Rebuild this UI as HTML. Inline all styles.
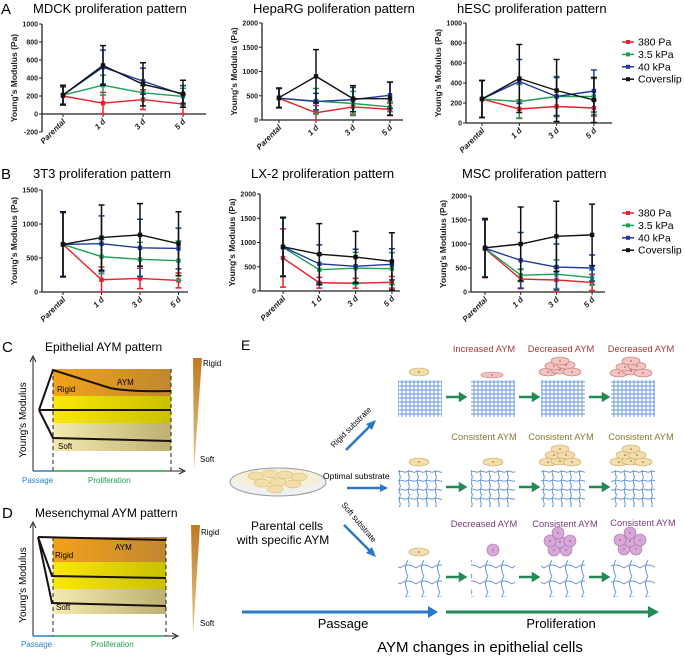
<!DOCTYPE html>
<html><head><meta charset="utf-8"><style>
html,body{margin:0;padding:0;background:#fff}
svg{display:block;font-family:"Liberation Sans",sans-serif}
</style></head><body>
<svg id="fig" width="685" height="656" viewBox="0 0 685 656" xmlns="http://www.w3.org/2000/svg">
<defs>
<linearGradient id="gOr" x1="0" x2="1"><stop offset="0" stop-color="#f3a21a"/><stop offset="1" stop-color="#c08830"/></linearGradient>
<linearGradient id="gYe" x1="0" x2="1"><stop offset="0" stop-color="#fbe70a"/><stop offset="1" stop-color="#c9c000"/></linearGradient>
<linearGradient id="gPa" x1="0" x2="1"><stop offset="0" stop-color="#f4eab0"/><stop offset="1" stop-color="#bdb070"/></linearGradient>
<linearGradient id="gTri" x1="0" x2="0" y1="0" y2="1"><stop offset="0" stop-color="#c07a20"/><stop offset="1" stop-color="#e8c890"/></linearGradient>
<pattern id="pFine" width="4" height="4" patternUnits="userSpaceOnUse"><path d="M0 2H4M2 0V4" stroke="#6a9ad8" stroke-width="1"/></pattern>
<pattern id="pMid" width="9" height="9" patternUnits="userSpaceOnUse"><path d="M0 4.5Q4.5 2 9 4.5M4.5 0Q2 4.5 4.5 9" stroke="#6a9ad8" stroke-width="1" fill="none"/></pattern>
<pattern id="pSoft" width="16" height="16" patternUnits="userSpaceOnUse"><path d="M0 8Q8 2 16 8M8 0Q3 8 8 16" stroke="#6a9ad8" stroke-width="1" fill="none"/></pattern>
</defs>
<g id="charts"></g>

<!-- Panel C -->
<g>
<text x="2" y="352" font-size="15">C</text>
<text x="45" y="351" font-size="12">Epithelial AYM pattern</text>
<rect x="53" y="369" width="118" height="27" fill="url(#gOr)"/>
<rect x="53" y="396" width="118" height="27" fill="url(#gYe)"/>
<rect x="53" y="423" width="118" height="28" fill="url(#gPa)"/>
<path d="M53 369V471M171 369V471" stroke="#222" stroke-dasharray="4 3"/>
<path d="M33 471V358M30 362L33 356L36 362" stroke="#222" fill="none"/>
<path d="M33 471H183M179 468L185 471L179 474" stroke="#222" fill="none"/>
<path d="M39 410L53 370Q85 380 110 388Q130 392 171 391M39 410H171M39 410L53 438L171 441" stroke="#1a1010" stroke-width="2" fill="none"/>
<text x="57" y="392" font-size="8">Rigid</text><text x="117" y="385" font-size="8">AYM</text><text x="58" y="449" font-size="8">Soft</text>
<path d="M33 471H52" stroke="#2a80d0" stroke-width="1.5"/><path d="M53 471H166" stroke="#20a050" stroke-width="1.5"/>
<text x="22" y="483" font-size="8" fill="#2a80d0">Passage</text><text x="88" y="483" font-size="8" fill="#20a050">Proliferation</text>
<text transform="translate(26,420) rotate(-90)" font-size="10" text-anchor="middle">Young's Modulus</text>
<path d="M193 358H202L194 470Z" fill="url(#gTri)"/>
<text x="203" y="366" font-size="8">Rigid</text><text x="200" y="462" font-size="8">Soft</text>
</g>

<!-- Panel D -->
<g>
<text x="2" y="518" font-size="15">D</text>
<text x="35" y="517" font-size="12">Mesenchymal AYM pattern</text>
<rect x="53" y="537" width="113" height="25" fill="url(#gOr)"/>
<rect x="53" y="562" width="113" height="27" fill="url(#gYe)"/>
<rect x="53" y="589" width="113" height="25" fill="url(#gPa)"/>
<path d="M53 537V636M166 537V636" stroke="#222" stroke-dasharray="4 3"/>
<path d="M33 636V524M30 528L33 522L36 528" stroke="#222" fill="none"/>
<path d="M33 636H176M172 633L178 636L172 639" stroke="#222" fill="none"/>
<path d="M38 537L166 540M38 537L52 576L166 578M38 537L52 603L166 606" stroke="#1a1010" stroke-width="2" fill="none"/>
<text x="55" y="558" font-size="8">Rigid</text><text x="115" y="550" font-size="8">AYM</text><text x="56" y="610" font-size="8">Soft</text>
<path d="M33 636H51" stroke="#2a80d0" stroke-width="1.5"/><path d="M53 636H163" stroke="#20a050" stroke-width="1.5"/>
<text x="21" y="647" font-size="8" fill="#2a80d0">Passage</text><text x="91" y="647" font-size="8" fill="#20a050">Proliferation</text>
<text transform="translate(26,585) rotate(-90)" font-size="10" text-anchor="middle">Young's Modulus</text>
<path d="M191 525H200L193 635Z" fill="url(#gTri)"/>
<text x="201" y="535" font-size="8">Rigid</text><text x="200" y="626" font-size="8">Soft</text>
</g>

<!-- Panel E -->
<g id="panelE">
<text x="241" y="350" font-size="14">E</text>
<g font-size="9.3" text-anchor="middle">
<text x="484" y="352" fill="#a83a40">Increased AYM</text><text x="561" y="352" fill="#a83a40">Decreased AYM</text><text x="641" y="352" fill="#a83a40">Decreased AYM</text>
<text x="484" y="440" fill="#8a7a30">Consistent AYM</text><text x="561" y="440" fill="#8a7a30">Consistent AYM</text><text x="641" y="440" fill="#8a7a30">Consistent AYM</text>
<text x="484" y="527" fill="#7a3a7a">Decreased AYM</text><text x="565" y="527" fill="#7a3a7a">Consistent AYM</text><text x="643" y="526" fill="#7a3a7a">Consistent AYM</text>
</g>
<g id="meshes"></g>
<ellipse cx="278" cy="482" rx="48" ry="14" fill="#eef0f4" stroke="#999"/>
<ellipse cx="278" cy="479" rx="44" ry="10" fill="#f6efd8"/>
<g fill="#f2dea8" stroke="#d4b470" stroke-width=".5">
<ellipse cx="256" cy="476" rx="8" ry="4"/><ellipse cx="270" cy="474" rx="8" ry="4"/><ellipse cx="285" cy="475" rx="8" ry="4"/><ellipse cx="299" cy="477" rx="8" ry="4"/>
<ellipse cx="262" cy="483" rx="8" ry="4"/><ellipse cx="278" cy="482" rx="8" ry="4"/><ellipse cx="293" cy="484" rx="8" ry="4"/><ellipse cx="275" cy="489" rx="8" ry="4"/></g>
<text x="287" y="530" font-size="12" text-anchor="middle">Parental cells</text>
<text x="283" y="544" font-size="12" text-anchor="middle">with specific AYM</text>
<path d="M346 450L372 424" stroke="#2a78c8" stroke-width="2.5"/><path d="M376 420L366 424L372 430Z" fill="#2a78c8"/>
<text transform="translate(334,448) rotate(-45)" font-size="8">Rigid substrate</text>
<text x="323" y="479" font-size="8.5">Optimal substrate</text>
<path d="M347 488H382" stroke="#2a78c8" stroke-width="2.5"/><path d="M388 488L380 484L380 492Z" fill="#2a78c8"/>
<path d="M344 525L371 552" stroke="#2a78c8" stroke-width="2.5"/><path d="M376 557L366 553L372 547Z" fill="#2a78c8"/>
<text transform="translate(341,505) rotate(50)" font-size="8">Soft substrate</text>
<path d="M242 612H430" stroke="#2a78c8" stroke-width="3"/><path d="M438 612L428 606L428 618Z" fill="#2a78c8"/>
<path d="M446 612H650" stroke="#218a55" stroke-width="3"/><path d="M659 612L648 606L648 618Z" fill="#218a55"/>
<text x="343" y="628" font-size="13" text-anchor="middle">Passage</text>
<text x="561" y="628" font-size="13" text-anchor="middle">Proliferation</text>
<text x="480" y="652" font-size="15" text-anchor="middle">AYM changes in epithelial cells</text>
</g>
</svg>
<script>
// ---- chart data ----
const cats = ['Parental', '1 d', '3 d', '5 d'];
const seriesNames = ['380 Pa', '3.5 kPa', '40 kPa', 'Coverslip'];
const mdck380 = [200, 120, 160, 110], mdck380Err = [100, 120, 110, 110];
const mdck35k = [210, 320, 235, 195], mdck35kErr = [100, 110, 80, 90];
const mdck40k = [210, 520, 365, 215], mdck40kErr = [100, 190, 145, 100];
const mdckCov = [210, 540, 330, 225], mdckCovErr = [110, 220, 240, 150];
const hep380 = [450, 150, 270, 220], hep380Err = [200, 150, 150, 130];
const hep35k = [450, 390, 340, 270], hep35kErr = [200, 260, 250, 100];
const hep40k = [450, 380, 420, 510], hep40kErr = [200, 170, 250, 270];
const hepCov = [460, 900, 440, 440], hepCovErr = [200, 550, 270, 340];
const hesc380 = [240, 140, 165, 150], hesc380Err = [185, 90, 100, 80];
const hesc35k = [240, 215, 265, 265], hesc35kErr = [185, 170, 200, 180];
const hesc40k = [240, 415, 265, 320], hesc40kErr = [185, 220, 190, 210];
const hescCov = [240, 445, 325, 230], hescCovErr = [185, 340, 310, 225];
const t3380 = [700, 180, 200, 170], t3380Err = [470, 190, 150, 110];
const t335k = [700, 520, 480, 460], t335kErr = [470, 250, 250, 290];
const t340k = [700, 710, 650, 640], t340kErr = [470, 410, 420, 300];
const t3Cov = [700, 800, 840, 710], t3CovErr = [480, 480, 460, 470];
const lx380 = [680, 170, 160, 180], lx380Err = [600, 110, 100, 120];
const lx35k = [900, 440, 470, 460], lx35kErr = [600, 300, 330, 330];
const lx40k = [910, 560, 510, 550], lx40kErr = [600, 390, 350, 320];
const lxCov = [910, 760, 700, 610], lxCovErr = [610, 630, 530, 590];
const msc380 = [900, 270, 250, 200], msc380Err = [600, 200, 250, 170];
const msc35k = [910, 350, 370, 300], msc35kErr = [600, 130, 300, 160];
const msc40k = [910, 660, 520, 500], msc40kErr = [600, 580, 480, 270];
const mscCov = [920, 1000, 1160, 1190], mscCovErr = [610, 770, 730, 640];
const tickMDCK = [-200, 0, 200, 400, 600, 800, 1000];
const tickHep = [0, 500, 1000, 1500, 2000];
const tickHesc = [0, 200, 400, 600, 800, 1000];
const tick3T3 = [0, 500, 1000, 1500];
const tickLX = [0, 500, 1000, 1500, 2000];
const tickMSC = [0, 500, 1000, 1500, 2000];

const NS = 'http://www.w3.org/2000/svg';
const colors = ['#e8202a', '#1fa055', '#1f3aa0', '#111111'];
function mk(tag, attrs, parent) { const e = document.createElementNS(NS, tag); for (const k in attrs) e.setAttribute(k, attrs[k]); parent.appendChild(e); return e; }

function drawChart(root, geom, ticks, means, errs, title, name) {
  const g = mk('g', {}, root);
  
  
  const ymin = ticks[0], ymax = ticks[ticks.length - 1];
  const y = v => geom.bottom - (v - ymin) / (ymax - ymin) * (geom.bottom - geom.top);
  const x = i => geom.x0 + i * geom.dx;
  const t = mk('text', { x: geom.ax - 9, y: geom.ty, 'font-size': 13 }, g);
  t.textContent = title;
  
  
  const yl = mk('text', { transform: `translate(${geom.ax - 25},${(geom.top + geom.bottom) / 2}) rotate(-90)`, 'font-size': 8.5, 'font-weight': 'bold', 'text-anchor': 'middle', fill: '#222' }, g);
  yl.textContent = "Young's Modulus (Pa)";
  
  
  mk('line', { x1: geom.ax, x2: geom.ax, y1: geom.top, y2: geom.bottom, stroke: '#222', 'stroke-width': 1.3 }, g);
  const zy = y(Math.max(0, ymin));
  mk('line', { x1: geom.ax, x2: geom.xend, y1: zy, y2: zy, stroke: '#222', 'stroke-width': 1.3 }, g);
  ticks.forEach(v => {
    mk('line', { x1: geom.ax - 3, x2: geom.ax, y1: y(v), y2: y(v), stroke: '#222' }, g);
    const tl = mk('text', { x: geom.ax - 4, y: y(v) + 2.5, 'font-size': 7, 'font-weight': 'bold', 'text-anchor': 'end', fill: '#222' }, g);
    tl.textContent = v;
    
    
  });
  cats.forEach((c, i) => {
    mk('line', { x1: x(i), x2: x(i), y1: zy, y2: zy + 3, stroke: '#222' }, g);
    const xl = mk('text', { transform: `translate(${x(i) + 3},${zy + 8}) rotate(-45)`, 'font-size': 8, 'font-weight': 'bold', 'font-style': 'italic', 'text-anchor': 'end', fill: '#222' }, g);
    xl.textContent = c;
    
    
  });
  means.forEach((s, si) => {
    const col = colors[si];
    const sg = mk('g', {}, g);
    
    
    s.forEach((v, i) => {
      const lo = y(Math.max(ymin, v - errs[si][i])), hi = y(Math.min(ymax, v + errs[si][i]));
      mk('path', { d: `M${x(i)} ${lo}V${hi}M${x(i) - 3} ${lo}h6M${x(i) - 3} ${hi}h6`, stroke: col, 'stroke-width': 1.5, fill: 'none' }, sg);
    });
    mk('polyline', { points: s.map((v, i) => `${x(i)},${y(v)}`).join(' '), stroke: col, 'stroke-width': 1.4, fill: 'none' }, sg);
    s.forEach((v, i) => {
      const m = mk('rect', { x: x(i) - 2.2, y: y(v) - 2.2, width: 4.4, height: 4.4, fill: col }, sg);
      
      
    });
  });
}
function legend(root, x, y0) {
  const g = mk('g', {}, root);
  
  
  seriesNames.forEach((n, i) => {
    const yy = y0 + i * 12.4;
    const e = mk('g', {}, g);
    
    
    mk('line', { x1: x - 6, x2: x + 6, y1: yy, y2: yy, stroke: colors[i], 'stroke-width': 1.5 }, e);
    mk('rect', { x: x - 2, y: yy - 2, width: 4, height: 4, fill: colors[i] }, e);
    const t = mk('text', { x: x + 10, y: yy + 3.5, 'font-size': 10.5 }, e);
    t.textContent = n;
  });
}
const charts = document.getElementById('charts');
const A = mk('text', { x: 1, y: 14, 'font-size': 15 }, charts); A.textContent = 'A';


const B = mk('text', { x: 1, y: 179, 'font-size': 15 }, charts); B.textContent = 'B';


drawChart(charts, { ax: 42, top: 24, bottom: 132, x0: 63, dx: 40, xend: 206, ty: 13 }, tickMDCK, [mdck380, mdck35k, mdck40k, mdckCov], [mdck380Err, mdck35kErr, mdck40kErr, mdckCovErr], 'MDCK proliferation pattern', 'mdck-chart');
drawChart(charts, { ax: 262, top: 23, bottom: 120, x0: 279, dx: 37, xend: 403, ty: 13 }, tickHep, [hep380, hep35k, hep40k, hepCov], [hep380Err, hep35kErr, hep40kErr, hepCovErr], 'HepaRG poliferation pattern', 'heparg-chart');
drawChart(charts, { ax: 466, top: 23, bottom: 123, x0: 482, dx: 37.3, xend: 612, ty: 13 }, tickHesc, [hesc380, hesc35k, hesc40k, hescCov], [hesc380Err, hesc35kErr, hesc40kErr, hescCovErr], 'hESC proliferation pattern', 'hesc-chart');
drawChart(charts, { ax: 42, top: 190, bottom: 292, x0: 63, dx: 38.5, xend: 188, ty: 178 }, tick3T3, [t3380, t335k, t340k, t3Cov], [t3380Err, t335kErr, t340kErr, t3CovErr], '3T3 proliferation pattern', '3t3-chart');
drawChart(charts, { ax: 260, top: 194, bottom: 291, x0: 283, dx: 36.3, xend: 400, ty: 178 }, tickLX, [lx380, lx35k, lx40k, lxCov], [lx380Err, lx35kErr, lx40kErr, lxCovErr], 'LX-2 proliferation pattern', 'lx2-chart');
drawChart(charts, { ax: 471, top: 196, bottom: 292, x0: 485, dx: 35.7, xend: 605, ty: 178 }, tickMSC, [msc380, msc35k, msc40k, mscCov], [msc380Err, msc35kErr, msc40kErr, mscCovErr], 'MSC proliferation pattern', 'msc-chart');
legend(charts, 628, 42);
legend(charts, 628, 213);

// panel E meshes & cells
const meshes = document.getElementById('meshes');
const cols = [398, 471, 541, 611];
const rows = [[380, 'pFine'], [470, 'pMid'], [560, 'pSoft']];
rows.forEach(([ry, pat], r) => {
  cols.forEach((cx, c) => {
    const m = mk('rect', { x: cx, y: ry, width: 44, height: 37, fill: `url(#${pat})` }, meshes);
    
    
    if (c < 3) mk('path', { d: `M${cx + 48} ${ry + 17}h14l0 -3l5 3l-5 3l0 -3`, stroke: '#218a55', 'stroke-width': 2.5, fill: '#218a55' }, meshes);
  });
});
function cell(cx, cy, rx, ry, fill, stroke) { mk('ellipse', { cx, cy, rx, ry, fill, stroke, 'stroke-width': .6 }, meshes); mk('circle', { cx, cy, r: .8, fill: '#c04060' }, meshes); }
cell(419, 372, 10, 4, '#f2dea8', '#c8a868'); cell(492, 375, 11, 3, '#f2c4c0', '#c07070');
[[548, 372], [560, 370], [572, 372], [554, 366], [566, 365], [560, 361]].forEach(p => cell(p[0], p[1], 9, 4, '#f2c4c0', '#c07070'));
[[619, 373], [631, 371], [643, 373], [625, 367], [637, 366], [631, 361]].forEach(p => cell(p[0], p[1], 9, 4, '#f2c4c0', '#c07070'));
cell(419, 462, 10, 4, '#f2dea8', '#c8a868'); cell(493, 462, 10, 4, '#f2dea8', '#c8a868');
[[548, 462], [560, 461], [572, 462], [554, 455], [566, 455], [560, 449]].forEach(p => cell(p[0], p[1], 9, 4, '#f2dea8', '#c8a868'));
[[619, 462], [631, 461], [643, 462], [625, 455], [637, 455], [631, 449]].forEach(p => cell(p[0], p[1], 9, 4, '#f2dea8', '#c8a868'));
cell(419, 552, 10, 4, '#f2dea8', '#c8a868'); cell(493, 550, 6, 6, '#d8a8d8', '#a070a8');
[[554, 550], [566, 550], [560, 542], [550, 541], [570, 541], [558, 533]].forEach(p => cell(p[0], p[1], 6, 6, '#d8a8d8', '#a070a8'));
[[624, 549], [636, 549], [630, 541], [620, 540], [640, 540], [630, 533]].forEach(p => cell(p[0], p[1], 6, 6, '#d8a8d8', '#a070a8'));
</script>
</body></html>
